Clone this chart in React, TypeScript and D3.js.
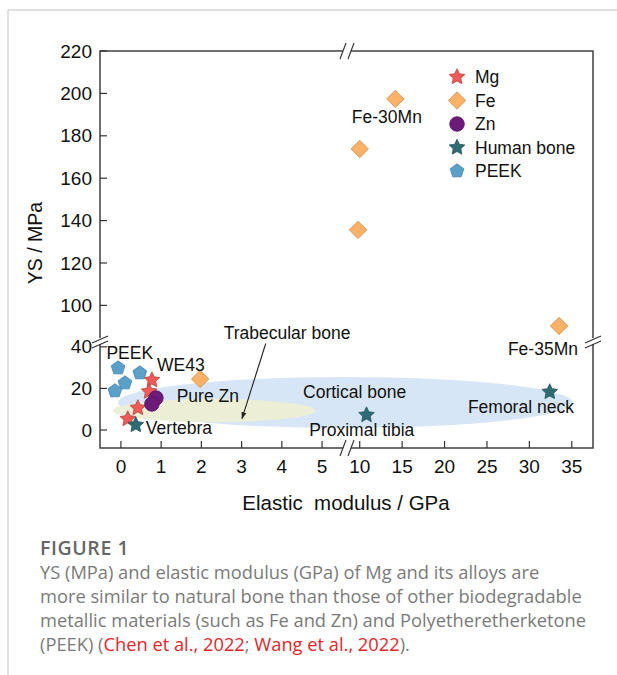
import * as d3 from 'd3'

// data (x: elastic modulus GPa, y: yield strength MPa)
const mgPoints = [[0.77, 24], [0.7, 18.5], [0.42, 10.6], [0.17, 5.3]]
const fePoints = [[1.97, 24.5], [14.2, 197.4], [10, 173.8], [9.8, 135.6], [33.5, 90.3]]
const znPoints = [[0.87, 15.4], [0.77, 12.5]]
const bonePoints = [[0.37, 2.4], [10.8, 7.2], [32.4, 18.3]]
const peekPoints = [[-0.07, 29.8], [0.47, 27.4], [0.1, 22.6], [-0.15, 18.8]]

const xTicksLow = [0, 1, 2, 3, 4, 5]
const xTicksHigh = [10, 15, 20, 25, 30, 35]
const yTicksLow = [0, 20, 40]
const yTicksHigh = [100, 120, 140, 160, 180, 200, 220]

const legendNames = ['Mg', 'Fe', 'Zn', 'Human bone', 'PEEK']

// regions: [xMin, xMax, yMin, yMax]
const cortical = [-0.07, 35.1, 1, 25.5]
const trabecular = [-0.2, 4.83, 3.85, 14.9]

const labels: [string, number, number, string][] = [
  ['PEEK', 0.22, 37, 'middle'],
  ['WE43', 1.49, 31.3, 'middle'],
  ['Pure Zn', 2.16, 16.3, 'middle'],
  ['Vertebra', 0.62, 1, 'start'],
  ['Trabecular bone', 4.13, 46.6, 'middle'],
  ['Cortical bone', 9.4, 18.3, 'middle'],
  ['Proximal tibia', 10.24, 0, 'middle'],
  ['Femoral neck', 29.0, 11, 'middle'],
  ['Fe-35Mn', 31.6, 39, 'middle'],
  ['Fe-30Mn', 13.2, 188.9, 'middle'],
]
const arrow = [[3.6, 41.6], [3.01, 5.5]]

const captionLines = [
  'YS (MPa) and elastic modulus (GPa) of Mg and its alloys are',
  'more similar to natural bone than those of other biodegradable',
  'metallic materials (such as Fe and Zn) and Polyetheretherketone',
]

const L = 100, R = 593, T = 51, B = 448
const BX = 347, BY = 341

const xLow = d3.scaleLinear().domain([-0.52, 5.62]).range([L, BX])
const xHigh = d3.scaleLinear().domain([8.5, 37.5]).range([BX, R])
const yLow = d3.scaleLinear().domain([-8.65, 42.8]).range([B, BY])
const yHigh = d3.scaleLinear().domain([83.2, 220]).range([BY, T])
const X = (v: number) => (v < 7 ? xLow(v) : xHigh(v))
const Y = (v: number) => (v < 60 ? yLow(v) : yHigh(v))

const polyPath = (n: number, r1: number, r2: number) => {
  const pts: [number, number][] = []
  const k = r2 ? n * 2 : n
  for (let i = 0; i < k; i++) {
    const r = r2 && i % 2 ? r2 : r1
    const a = -Math.PI / 2 + (i * 2 * Math.PI) / k
    pts.push([r * Math.cos(a), r * Math.sin(a)])
  }
  return 'M' + pts.map((p) => p.join(',')).join('L') + 'Z'
}
const starPath = polyPath(5, 8.2, 4)
const pentPath = polyPath(5, 7.2, 0)
const diamondPath = 'M0,-8.7L8.7,0L0,8.7L-8.7,0Z'

const styles = {
  Mg: { fill: '#f05b58', stroke: '#b8413d' },
  Fe: { fill: '#f9b268', stroke: '#cf8c48' },
  Zn: { fill: '#6c1b78', stroke: '#5a1466' },
  'Human bone': { fill: '#2e6b74', stroke: '#24555c' },
  PEEK: { fill: '#5ba0c9', stroke: '#4283ad' },
} as Record<string, { fill: string; stroke: string }>

function Marker({ name, x, y }: { name: string; x: number; y: number }) {
  const s = styles[name]
  const common = { fill: s.fill, stroke: s.stroke, strokeWidth: 0.8, transform: `translate(${x},${y})` }
  if (name === 'Zn') return <circle cx={x} cy={y} r={7.3} fill={s.fill} stroke={s.stroke} strokeWidth={0.8} />
  if (name === 'Fe') return <path d={diamondPath} {...common} />
  if (name === 'PEEK') return <path d={pentPath} {...common} />
  return <path d={starPath} {...common} />
}

export default function App() {
  const font = 'Liberation Sans, Arial, sans-serif'
  const axis = '#333'
  const series: [string, number[][]][] = [
    ['PEEK', peekPoints],
    ['Mg', mgPoints],
    ['Fe', fePoints],
    ['Zn', znPoints],
    ['Human bone', bonePoints],
  ]
  const ell = (e: number[], color: string) => {
    const x0 = X(e[0]), x1 = X(e[1]), y0 = Y(e[3]), y1 = Y(e[2])
    return <ellipse cx={(x0 + x1) / 2} cy={(y0 + y1) / 2} rx={(x1 - x0) / 2} ry={(y1 - y0) / 2} fill={color} />
  }
  const slashV = (x: number, y: number) => (
    <g stroke={axis} strokeWidth={1.2}>
      <rect x={x - 4} y={y - 3} width={8} height={6} fill="white" stroke="none" />
      <line x1={x - 7} y1={y + 8} x2={x - 1} y2={y - 8} />
      <line x1={x + 1} y1={y + 8} x2={x + 7} y2={y - 8} />
    </g>
  )
  const slashH = (x: number, y: number) => (
    <g stroke={axis} strokeWidth={1.2}>
      <rect x={x - 3} y={y - 3} width={6} height={6} fill="white" stroke="none" />
      <line x1={x - 8} y1={y + 2} x2={x + 8} y2={y - 5} />
      <line x1={x - 8} y1={y + 7} x2={x + 8} y2={y} />
    </g>
  )
  return (
    <svg width={617} height={675} style={{ position: 'absolute', left: 0, top: 0, background: 'white' }}>
      <defs>
        <marker id="ah" viewBox="0 0 10 10" refX={9} refY={5} markerWidth={6.5} markerHeight={6.5} orient="auto">
          <path d="M0,1.5L10,5L0,8.5Z" fill="#222" />
        </marker>
      </defs>
      <line x1={8} y1={10} x2={617} y2={10} stroke="#d6d6d6" strokeWidth={1.5} />
      <line x1={8} y1={10} x2={8} y2={675} stroke="#d6d6d6" strokeWidth={1.5} />

      {ell(cortical, '#d6e6f6')}
      {ell(trabecular, '#ecefd5')}

      <rect x={L} y={T} width={R - L} height={B - T} fill="none" stroke={axis} strokeWidth={1.4} />

      <g fontFamily={font} fontSize={19} fill="#111">
        {xTicksLow.map((t) => (
          <g key={'xl' + t}>
            <line x1={xLow(t)} x2={xLow(t)} y1={B} y2={B - 7} stroke={axis} strokeWidth={1.2} />
            <text x={xLow(t)} y={473} textAnchor="middle">{t}</text>
          </g>
        ))}
        {xTicksHigh.map((t) => (
          <g key={'xh' + t}>
            <line x1={xHigh(t)} x2={xHigh(t)} y1={B} y2={B - 7} stroke={axis} strokeWidth={1.2} />
            <text x={xHigh(t)} y={473} textAnchor="middle">{t}</text>
          </g>
        ))}
        {yTicksLow.map((t) => (
          <g key={'yl' + t}>
            <line x1={L} x2={L + 7} y1={yLow(t)} y2={yLow(t)} stroke={axis} strokeWidth={1.2} />
            <text x={92} y={yLow(t)} dy="0.35em" textAnchor="end">{t}</text>
          </g>
        ))}
        {yTicksHigh.map((t) => (
          <g key={'yh' + t}>
            <line x1={L} x2={L + 7} y1={yHigh(t)} y2={yHigh(t)} stroke={axis} strokeWidth={1.2} />
            <text x={92} y={yHigh(t)} dy="0.35em" textAnchor="end">{t}</text>
          </g>
        ))}
        <text x={346} y={510} textAnchor="middle" fontSize={20.5} xmlSpace="preserve" style={{ whiteSpace: 'pre' }}>Elastic  modulus / GPa</text>
        <text transform="translate(42,243) rotate(-90)" textAnchor="middle" fontSize={19.5}>YS / MPa</text>
      </g>

      {slashV(BX, T)}
      {slashV(BX, B)}
      {slashH(L, BY)}
      {slashH(R, BY)}

      <line x1={X(arrow[0][0])} y1={Y(arrow[0][1])} x2={X(arrow[1][0])} y2={Y(arrow[1][1])}
        stroke="#222" strokeWidth={1.1} markerEnd="url(#ah)" />

      {series.map(([name, pts]) =>
        pts.map((p, i) => <Marker key={name + i} name={name} x={X(p[0])} y={Y(p[1])} />)
      )}

      <g fontFamily={font} fontSize={17.5} fill="#111">
        {labels.map(([t, x, y, anchor]) => (
          <text key={t} x={X(x)} y={Y(y)} dy="0.35em" textAnchor={anchor as any}>{t}</text>
        ))}
      </g>

      <g fontFamily={font} fontSize={17.5} fill="#111">
        {legendNames.map((n, i) => (
          <g key={n}>
            <Marker name={n} x={457} y={77 + i * 23.5} />
            <text x={475} y={77 + i * 23.5} dy="0.35em">{n}</text>
          </g>
        ))}
      </g>

      <g fontFamily="Open Sans, sans-serif" fontSize={18.3} fill="#7a7a7a">
        <text x={40} y={555} fontWeight={600} fill="#666" fontSize={19.5} letterSpacing={0.6}>FIGURE 1</text>
        {captionLines.map((l, i) => (
          <text key={i} x={40} y={579 + i * 24}>{l}</text>
        ))}
        <text x={40} y={651}>
          (PEEK) (<tspan fill="#e3262c">Chen et al., 2022</tspan>; <tspan fill="#e3262c">Wang et al., 2022</tspan>).
        </text>
      </g>
    </svg>
  )
}
